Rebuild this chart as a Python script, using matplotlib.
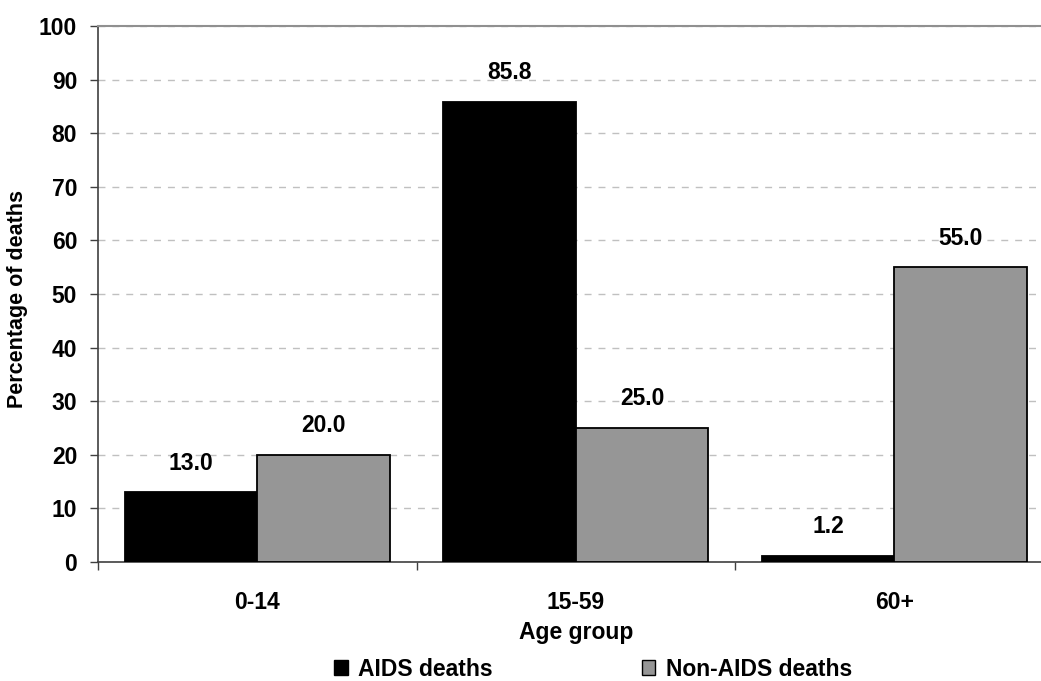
import matplotlib
matplotlib.use("Agg")
import matplotlib.pyplot as plt
from matplotlib.patches import Patch
import numpy as np

categories = ["0-14", "15-59", "60+"]
aids_deaths = [13.0, 85.8, 1.2]
non_aids_deaths = [20.0, 25.0, 55.0]
series_names = ["AIDS deaths", "Non-AIDS deaths"]
y_ticks = [0, 10, 20, 30, 40, 50, 60, 70, 80, 90, 100]

plt.rcParams["font.family"] = ["Liberation Sans", "DejaVu Sans"]
plt.rcParams["font.weight"] = "bold"

FS = 16.5

W, H = 1041, 681
fig = plt.figure(figsize=(W / 100, H / 100), dpi=100)
left_px, right_px, top_px, bot_px = 98, 1053.5, 26, 562
ax = fig.add_axes([left_px / W, 1 - bot_px / H,
                   (right_px - left_px) / W, (bot_px - top_px) / H])

x = np.arange(len(categories))
bw = 0.416
b1 = ax.bar(x - bw / 2, aids_deaths, bw, color="black", edgecolor="black",
            linewidth=1.3, zorder=3)
b2 = ax.bar(x + bw / 2, non_aids_deaths, bw, color="#969696", edgecolor="black",
            linewidth=1.3, zorder=3)

for bars, vals in ((b1, aids_deaths), (b2, non_aids_deaths)):
    for rect, v in zip(bars, vals):
        ax.annotate(f"{v:.1f}", (rect.get_x() + rect.get_width() / 2, v),
                    xytext=(0, 21), textcoords="offset points",
                    ha="center", va="center", fontsize=FS, fontweight="bold")

ax.set_xlim(-0.5, len(categories) - 0.5)
ax.set_ylim(0, 100)
ax.set_yticks(y_ticks)
ax.set_yticklabels([str(t) for t in y_ticks], fontsize=FS, fontweight="bold")

# category labels centred, ticks on category boundaries
ax.set_xticks(x)
ax.set_xticklabels(categories, fontsize=FS, fontweight="bold")
ax.tick_params(axis="x", which="major", length=0, pad=21)
ax.set_xticks(np.arange(-0.5, len(categories) + 0.5, 1.0), minor=True)
ax.tick_params(axis="x", which="minor", length=6, width=1, color="#404040",
               direction="out")
ax.tick_params(axis="y", length=6, width=1, color="#404040", direction="out",
               pad=9)

ax.yaxis.grid(True, linestyle=(0, (5, 5)), color="#c0c0c0", linewidth=1, zorder=0)
ax.set_axisbelow(True)

for s in ("left", "bottom"):
    ax.spines[s].set_color("#404040")
    ax.spines[s].set_linewidth(1.2)
ax.spines["top"].set_color("#909090")
ax.spines["top"].set_linewidth(1.5)
ax.spines["right"].set_visible(False)

fig.text(18 / W, 1 - 299 / H, "Percentage of deaths", rotation=90,
         ha="center", va="center", fontsize=15.5, fontweight="bold")
fig.text((left_px + right_px) / 2 / W, 1 - 633 / H, "Age group", ha="center",
         va="center", fontsize=FS, fontweight="bold")

handles = [Patch(facecolor="black", edgecolor="black"),
           Patch(facecolor="#969696", edgecolor="black")]
fig.legend(handles, series_names, loc="center", ncol=2,
           bbox_to_anchor=(593 / W, 1 - 669 / H), frameon=False,
           prop={"size": FS, "weight": "bold"}, handlelength=0.6,
           handleheight=0.6, handletextpad=0.45, columnspacing=6.5)

fig.savefig("out.png", dpi=100)
